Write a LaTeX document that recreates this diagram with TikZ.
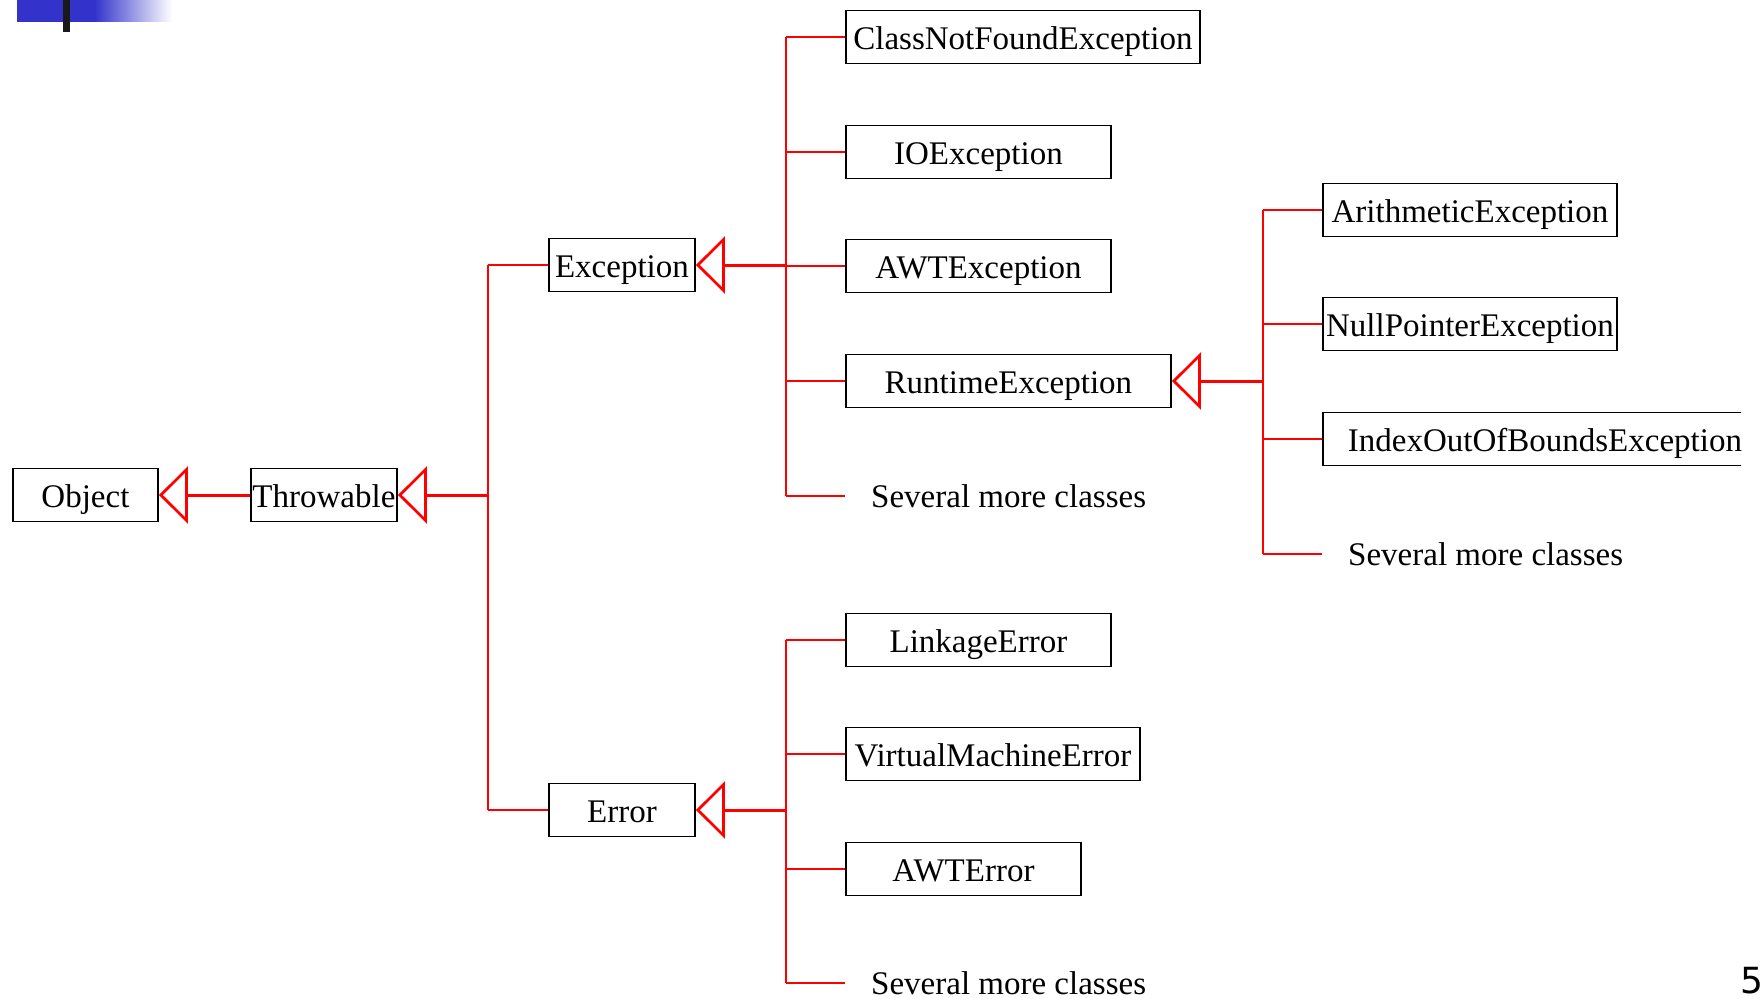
\documentclass[tikz,border=0pt]{standalone}
\usepackage{fontspec}
\setmainfont{Liberation Serif}
\newfontfamily\pagefont{DejaVu Sans}
\usetikzlibrary{arrows.meta}
\definecolor{slideblue}{RGB}{51,51,204}
\begin{document}
\begin{tikzpicture}[x=1pt,y=-1pt,
  cls/.style={draw=black, line width=1.9pt, minimum height=53pt, inner sep=0pt,
    text height=25pt, text depth=0pt,
    anchor=west, font=\fontsize{33}{40}\selectfont},
  more/.style={anchor=west, inner xsep=26pt, inner ysep=0pt,
    font=\fontsize{33}{40}\selectfont},
  branch/.style={draw=red, line width=2.6pt},
  inherit/.style={draw=red, line width=3pt,
    -{Triangle[open, length=29pt, width=57pt, line width=2.7pt]}},
]
\useasboundingbox (0,0) rectangle (1760,998);
\clip (0,0) rectangle (1760,998);

% slide header ornament
\fill[slideblue] (17,0) rectangle (95,22);
\shade[left color=slideblue, right color=white] (94.5,0) rectangle (172,22);
\fill[black!90] (63,0) rectangle (70,32);

% class boxes
\node[cls, minimum width=145pt] (object) at (12,495) {Object};
\node[cls, minimum width=146pt] (throwable) at (250,495) {Throwable};
\node[cls, minimum width=146pt] (exception) at (548,265) {Exception};
\node[cls, minimum width=146pt] (error) at (548,810) {Error};

\node[cls, minimum width=354pt] (cnf) at (845,37) {ClassNotFoundException};
\node[cls, minimum width=265pt] (io) at (845,152) {IOException};
\node[cls, minimum width=265pt] (awte) at (845,266) {AWTException};
\node[cls, minimum width=325pt] (rte) at (845,381) {RuntimeException};
\node[more] (exmore) at (845,496) {Several more classes};

\node[cls, minimum width=265pt] (link) at (845,640) {LinkageError};
\node[cls, minimum width=294pt] (vme) at (845,754) {VirtualMachineError};
\node[cls, minimum width=235pt] (awterr) at (845,869) {AWTError};
\node[more] (errmore) at (845,983) {Several more classes};

\node[cls, minimum width=294pt] (arith) at (1322,210) {ArithmeticException};
\node[cls, minimum width=294pt] (npe) at (1322,324) {NullPointerException};
\begin{scope}
  \clip (0,0) rectangle (1741,998);
  \node[cls, minimum width=444pt] (ioob) at (1322,439) {IndexOutOfBoundsException};
\end{scope}
\node[more] (rtmore) at (1322,554) {Several more classes};

% junction points of the hierarchy
\coordinate (tj) at (488,495);
\coordinate (ej) at (786,265);
\coordinate (errj) at (786,810);
\coordinate (rj) at (1263,381);

% Throwable -> Object
\draw[inherit] (throwable.west) -- (object.east);

% Exception / Error -> Throwable
\draw[inherit] (tj) -- (throwable.east);
\draw[branch] (exception.west -| tj) -- (error.west -| tj);
\draw[branch] (exception.west -| tj) -- (exception.west);
\draw[branch] (error.west -| tj) -- (error.west);

% subclasses of Exception
\draw[inherit] (ej) -- (exception.east);
\draw[branch] (cnf.west -| ej) -- (exmore.west -| ej);
\foreach \c in {cnf, io, awte, rte, exmore}
  \draw[branch] (\c.west -| ej) -- (\c.west);

% subclasses of Error
\draw[inherit] (errj) -- (error.east);
\draw[branch] (link.west -| errj) -- (errmore.west -| errj);
\foreach \c in {link, vme, awterr, errmore}
  \draw[branch] (\c.west -| errj) -- (\c.west);

% subclasses of RuntimeException
\draw[inherit] (rj) -- (rte.east);
\draw[branch] (arith.west -| rj) -- (rtmore.west -| rj);
\foreach \c in {arith, npe, ioob, rtmore}
  \draw[branch] (\c.west -| rj) -- (\c.west);

% page number
\node[font=\pagefont\fontsize{36}{40}\selectfont, anchor=base west, inner sep=0pt]
  (pagenum) at (1740,993) {5};
\end{tikzpicture}
\end{document}
